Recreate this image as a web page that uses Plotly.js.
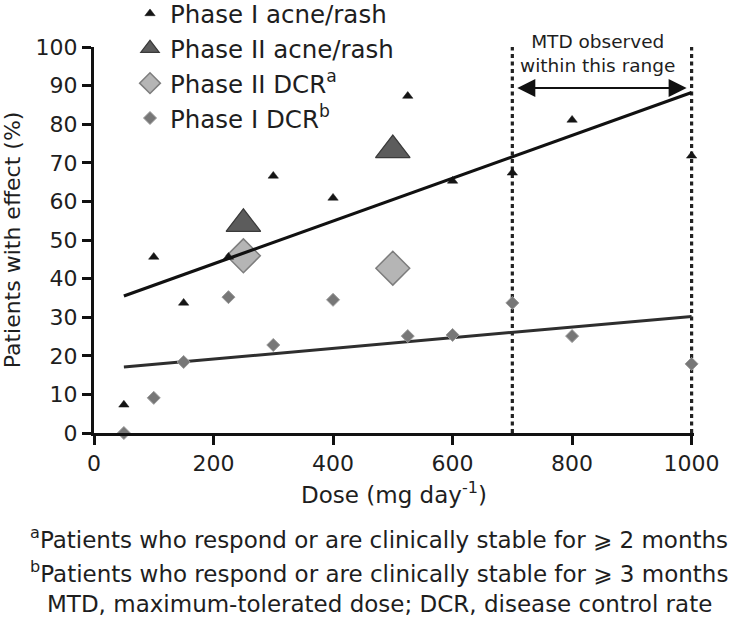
<!DOCTYPE html>
<html>
<head>
<meta charset="utf-8">
<script src="https://cdn.plot.ly/plotly-3.0.1.min.js"></script>
<style>html,body{margin:0;padding:0;background:#fff;}#chart{width:738px;height:628px;}</style>
</head>
<body>
<div id="chart"></div>
<script>
// ---- data ----
var phase1AcneDose = [50, 100, 150, 225, 300, 400, 525, 600, 700, 800, 1000];
var phase1AcnePct  = [7.3, 45.6, 33.7, 45.6, 66.6, 60.9, 87.3, 65.3, 67.4, 81.1, 71.8];

var phase2AcneDose = [250, 500];
var phase2AcnePct  = [54.2, 73.3];

var phase2DcrDose = [250, 500];
var phase2DcrPct  = [45.9, 42.7];

var phase1DcrDose = [50, 100, 150, 225, 300, 400, 525, 600, 700, 800, 1000];
var phase1DcrPct  = [0, 9.1, 18.4, 35.2, 22.8, 34.5, 25.1, 25.4, 33.7, 25.1, 17.9];

// trend lines (end points)
var acneFitDose = [50, 1000];
var acneFitPct  = [35.5, 88.2];
var dcrFitDose  = [50, 1000];
var dcrFitPct   = [17.1, 30.2];

// MTD range
var mtdRange = [700, 1000];
var mtdArrowY = 89.4;

var xTicks = [0, 200, 400, 600, 800, 1000];
var yTicks = [0, 10, 20, 30, 40, 50, 60, 70, 80, 90, 100];

var FONT = 'DejaVu Sans, Verdana, sans-serif';
var TXT = '#1e1e1e';
var mid = (mtdRange[0] + mtdRange[1]) / 2;

var traces = [
  {x: dcrFitDose, y: dcrFitPct, mode: 'lines', line: {color: '#2e2e2e', width: 3}, showlegend: false, hoverinfo: 'skip'},
  {x: phase1DcrDose, y: phase1DcrPct, mode: 'markers', name: 'Phase I DCR<sup>b</sup>', legendrank: 4,
   marker: {symbol: 'diamond', size: 10, color: '#777777', line: {color: '#9a9a9a', width: 1}}, cliponaxis: false},
  {x: phase2DcrDose, y: phase2DcrPct, mode: 'markers', name: 'Phase II DCR<sup>a</sup>', legendrank: 3,
   marker: {symbol: 'diamond', size: 26, color: '#b5b5b5', line: {color: '#7d7d7d', width: 1.5}}, cliponaxis: false},
  {x: phase1AcneDose, y: phase1AcnePct, mode: 'markers', name: 'Phase I acne/rash', legendrank: 1,
   marker: {symbol: 'triangle-up', size: 9, color: '#151515', line: {color: '#151515', width: 0.5}}, cliponaxis: false},
  {x: phase2AcneDose, y: phase2AcnePct, mode: 'markers', name: 'Phase II acne/rash', legendrank: 2,
   marker: {symbol: 'triangle-up', size: 30, color: '#5c5c5c', line: {color: '#3a3a3a', width: 1.2}}, cliponaxis: false},
  {x: acneFitDose, y: acneFitPct, mode: 'lines', line: {color: '#111111', width: 3.2}, showlegend: false, hoverinfo: 'skip'}
];

var shapes = mtdRange.map(function (d) {
  return {type: 'line', xref: 'x', yref: 'y', x0: d, x1: d, y0: 0, y1: 100, layer: 'below',
          line: {color: '#222222', width: 3.2, dash: '4px,3.5px'}};
});

var annotations = [
  {xref: 'x', yref: 'y', x: mid - 8, y: 98.2, text: 'MTD observed<br>within this range',
   showarrow: false, font: {family: FONT, size: 18.5, color: TXT}, xanchor: 'center', yanchor: 'middle', align: 'center'},
  {xref: 'x', yref: 'y', axref: 'x', ayref: 'y', x: mtdRange[0], y: mtdArrowY, ax: mid + 10, ay: mtdArrowY,
   text: '', showarrow: true, arrowhead: 2, arrowsize: 1.8, arrowwidth: 2, arrowcolor: '#111', standoff: 5},
  {xref: 'x', yref: 'y', axref: 'x', ayref: 'y', x: mtdRange[1], y: mtdArrowY, ax: mid - 10, ay: mtdArrowY,
   text: '', showarrow: true, arrowhead: 2, arrowsize: 1.8, arrowwidth: 2, arrowcolor: '#111', standoff: 5},
  {xref: 'paper', yref: 'paper', x: 0.475, y: -0.272, showarrow: false, xanchor: 'center', yanchor: 'middle',
   text: '<sup>a</sup>Patients who respond or are clinically stable for \u2A7E 2 months', font: {family: FONT, size: 23, color: TXT}},
  {xref: 'paper', yref: 'paper', x: 0.475, y: -0.360, showarrow: false, xanchor: 'center', yanchor: 'middle',
   text: '<sup>b</sup>Patients who respond or are clinically stable for \u2A7E 3 months', font: {family: FONT, size: 23, color: TXT}},
  {xref: 'paper', yref: 'paper', x: 0.475, y: -0.443, showarrow: false, xanchor: 'center', yanchor: 'middle',
   text: 'MTD, maximum-tolerated dose; DCR, disease control rate', font: {family: FONT, size: 23, color: TXT}}
];

var layout = {
  width: 738, height: 628,
  margin: {l: 94, r: 44, t: 47, b: 195, autoexpand: false},
  paper_bgcolor: '#ffffff', plot_bgcolor: '#ffffff',
  font: {family: FONT, color: TXT},
  showlegend: true,
  legend: {x: 0.06, y: 1.145, xanchor: 'left', yanchor: 'top', bgcolor: 'rgba(0,0,0,0)', borderwidth: 0,
           font: {family: FONT, size: 24.5, color: TXT}, itemsizing: 'trace', tracegroupgap: 0},
  xaxis: {range: [0, 1004], tickvals: xTicks, ticks: 'outside', ticklen: 9, tickwidth: 3, tickcolor: '#111',
          showline: true, linecolor: '#111', linewidth: 3, showgrid: false, zeroline: false,
          tickfont: {family: FONT, size: 22, color: TXT},
          title: {text: 'Dose (mg day<sup>-1</sup>)', font: {family: FONT, size: 23, color: TXT}, standoff: 12}},
  yaxis: {range: [0, 100], tickvals: yTicks, ticks: 'outside', ticklen: 9, tickwidth: 3, tickcolor: '#111',
          showline: true, linecolor: '#111', linewidth: 3, showgrid: false, zeroline: false,
          tickfont: {family: FONT, size: 22, color: TXT},
          title: {text: 'Patients with effect (%)', font: {family: FONT, size: 22, color: TXT}, standoff: 10}},
  shapes: shapes,
  annotations: annotations
};

Plotly.newPlot('chart', traces, layout, {staticPlot: true, displayModeBar: false});
</script>
</body>
</html>
